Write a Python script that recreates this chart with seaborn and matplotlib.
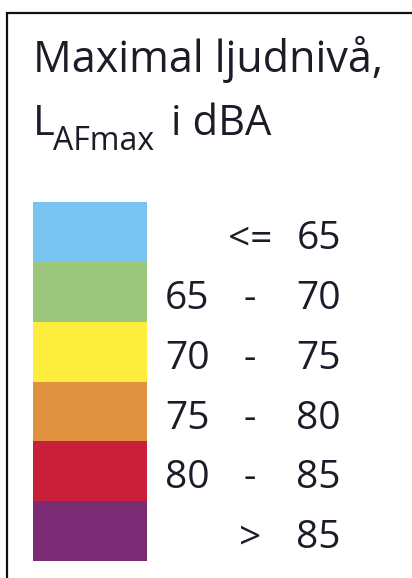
import matplotlib
matplotlib.use('Agg')
import matplotlib.pyplot as plt
import matplotlib.transforms as mtransforms
from matplotlib.patches import Rectangle
import seaborn as sns

# Legend classes for maximal sound level
classes = ['<= 65', '65 - 70', '70 - 75', '75 - 80', '80 - 85', '> 85']
low_labels = ['', '65', '70', '75', '80', '']
op_labels = ['<=', '-', '-', '-', '-', '>']
high_labels = ['65', '70', '75', '80', '85', '85']
class_colors = ['#78C4F0', '#9BC67B', '#FDEE3E', '#DF913F', '#C91F3A', '#7B2B73']
swatch_size = [1, 1, 1, 1, 1, 1]

sns.set_theme(style='white')
plt.rcParams['font.family'] = ['Open Sans', 'DejaVu Sans']
text_color = '#1c1c28'

W, H = 412, 578
fig = plt.figure(figsize=(W / 100, H / 100), dpi=100)
fig.patch.set_facecolor('white')

# frame around the legend (right and bottom edges run off the image)
fig.patches.append(Rectangle((7.5 / W, -0.5), 2, 1.5 - 12.5 / H,
                             transform=fig.transFigure, fill=False,
                             edgecolor='#111111', linewidth=1.6))

# title
fig.text(33 / W, 1 - 72 / H, 'Maximal ljudnivå,', fontsize=31,
         color=text_color, va='baseline', ha='left')
fig.text(33 / W, 1 - 135 / H, 'L', fontsize=30,
         color=text_color, va='baseline', ha='left')
fig.text(53 / W, 1 - 150 / H, 'AFmax', fontsize=23,
         color=text_color, va='baseline', ha='left')
fig.text(171 / W, 1 - 135 / H, 'i dBA', fontsize=30,
         color=text_color, va='baseline', ha='left')

# colour swatches
ax = fig.add_axes([33 / W, 1 - 561 / H, 114 / W, 359 / H])
sns.barplot(x=swatch_size, y=classes, hue=classes, palette=class_colors,
            saturation=1, orient='h', width=1.0, legend=False, ax=ax,
            linewidth=0)
ax.set_xlim(0, 1)
ax.set_ylim(len(classes) - 0.5, -0.5)
ax.axis('off')

trans = mtransforms.blended_transform_factory(fig.transFigure, ax.transData)
for i in range(len(classes)):
    y = i + 0.12
    if low_labels[i]:
        ax.text(165 / W, y, low_labels[i], transform=trans, fontsize=28,
                color=text_color, ha='left', va='center', clip_on=False)
    ax.text(250 / W, y, op_labels[i], transform=trans, fontsize=28,
            color=text_color, ha='center', va='center', clip_on=False)
    ax.text(341 / W, y, high_labels[i], transform=trans, fontsize=28,
            color=text_color, ha='right', va='center', clip_on=False)

plt.savefig('out.png', dpi=100, facecolor='white')
